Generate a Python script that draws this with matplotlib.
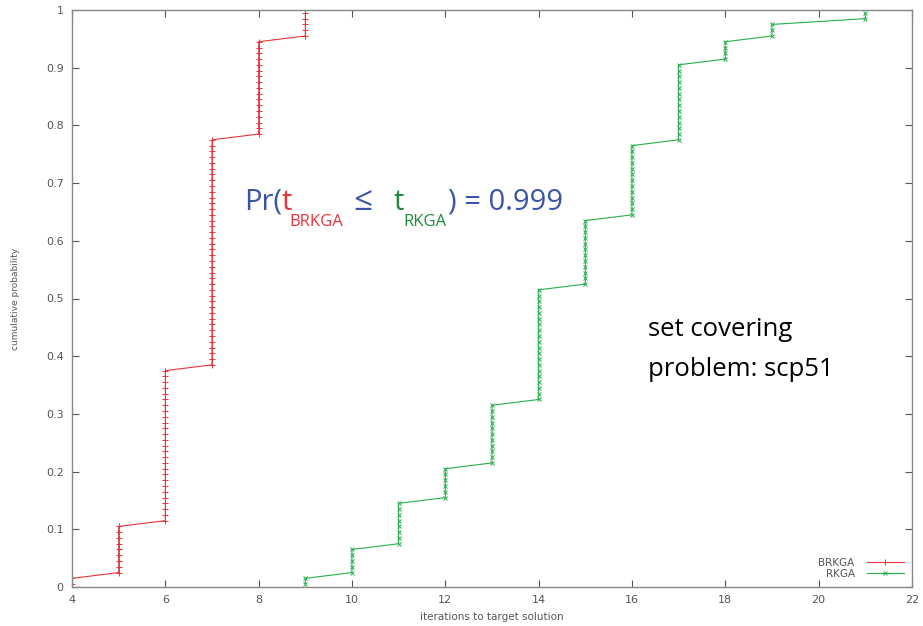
import numpy as np
import matplotlib.pyplot as plt

# iterations needed to reach the target, and how many of the 100 runs needed each
brkga_iters = [4, 5, 6, 7, 8, 9]
brkga_runs = [2, 9, 27, 40, 17, 5]
rkga_iters = [9, 10, 11, 12, 13, 14, 15, 16, 17, 18, 19, 21]
rkga_runs = [2, 5, 8, 6, 11, 20, 12, 13, 14, 4, 3, 2]

x_ticks = [4, 6, 8, 10, 12, 14, 16, 18, 20, 22]
y_ticks = [0, 0.1, 0.2, 0.3, 0.4, 0.5, 0.6, 0.7, 0.8, 0.9, 1]
y_tick_labels = ["0", "0.1", "0.2", "0.3", "0.4", "0.5", "0.6", "0.7", "0.8", "0.9", "1"]


def ecdf(iters, runs):
    t = np.repeat(iters, runs)
    n = len(t)
    p = (np.arange(1, n + 1) - 0.5) / n
    return t, p


W, H = 923, 626
fig = plt.figure(figsize=(W / 100, H / 100), dpi=100)
ax = fig.add_axes([72 / W, 1 - 587 / H, 840 / W, 577 / H])

red = "#e8343c"
green = "#25b04c"
gray = "#555555"

t, p = ecdf(brkga_iters, brkga_runs)
ax.plot(t, p, color=red, lw=0.8, marker="+", ms=4.5, mew=0.7, label="BRKGA")
t, p = ecdf(rkga_iters, rkga_runs)
ax.plot(t, p, color=green, lw=0.8, marker="x", ms=3.0, mew=0.7, label="RKGA")

ax.set_xlim(4, 22)
ax.set_ylim(0, 1)
ax.set_xticks(x_ticks)
ax.set_yticks(y_ticks)
ax.set_yticklabels(y_tick_labels)
ax.tick_params(direction="in", top=True, right=True, length=5, width=0.8,
               colors=gray, labelsize=8, pad=6)
for s in ax.spines.values():
    s.set_color("#888888")
    s.set_linewidth(1.0)

ax.set_xlabel("iterations to target solution", fontsize=7.5, color=gray, labelpad=5)
ax.set_ylabel("cumulative probability", fontsize=6.5, color=gray)
ax.yaxis.set_label_coords(-52 / 840, 0.5)

leg = ax.legend(loc="lower right", frameon=False, markerfirst=False, fontsize=7.5,
                handlelength=3.5, borderaxespad=0.4, labelspacing=0.1, handletextpad=1.2)
for txt in leg.get_texts():
    txt.set_color(gray)


# probability annotation, built piece by piece for the coloured subscripts
def px(x, y, s, color, size):
    fig.text(x / W, 1 - y / H, s, color=color, fontsize=size, family="Open Sans",
             va="baseline", ha="left")


blue = "#3a55a8"
dark_green = "#1f8a3c"
px(244, 210, "Pr(", blue, 21)
px(281, 210, "t", red, 21)
px(289, 226, "BRKGA", red, 12)
px(353, 210, "\u2264", blue, 24)
px(393, 210, "t", dark_green, 21)
px(403, 226, "RKGA", dark_green, 12)
px(448, 210, ") = 0.999", blue, 21)

fig.text(648 / W, 1 - 336 / H, "set covering", fontsize=18.5, family="Open Sans",
         va="baseline", color="black")
fig.text(648 / W, 1 - 376 / H, "problem: scp51", fontsize=18.5, family="Open Sans",
         va="baseline", color="black")

fig.savefig("out.png", dpi=100)
